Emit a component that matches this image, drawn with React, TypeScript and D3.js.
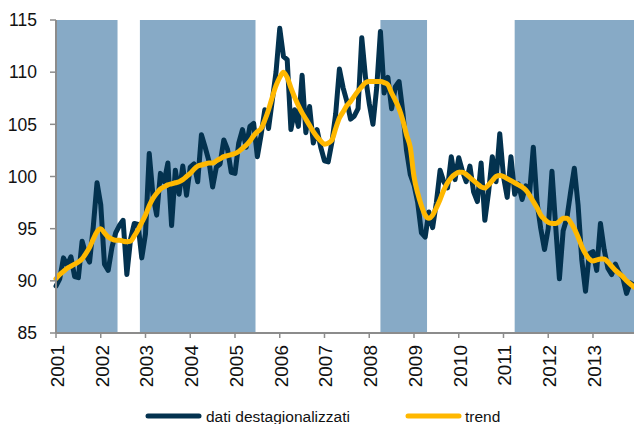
import React from 'react';
import * as d3 from 'd3';

// anni sull'asse x (un tick a gennaio di ogni anno)
const years = ['2001', '2002', '2003', '2004', '2005', '2006', '2007', '2008', '2009', '2010', '2011', '2012', '2013'];

// dati mensili destagionalizzati, gen 2001 - dic 2013
const seasAdj = [
  89.5, 90.2, 92.2, 91.5, 92.3, 90.4, 90.3, 93.8, 92.5, 91.8, 95.2, 99.4,
  97.3, 91.6, 91.0, 93.2, 94.6, 95.3, 95.8, 90.6, 94.0, 95.5, 95.4, 92.2,
  94.5, 102.2, 98.2, 96.3, 100.3, 99.5, 101.3, 95.3, 100.6, 98.3, 101.0, 98.2,
  100.9, 101.2, 99.5, 104.0, 102.8, 101.5, 99.0, 100.9, 101.2, 103.5, 102.6, 100.4,
  100.3, 103.2, 104.5, 102.8, 104.8, 105.1, 101.9, 104.0, 106.4, 104.6, 107.3, 110.0,
  114.2, 111.5, 111.2, 104.5, 106.4, 104.8, 109.7, 104.2, 106.7, 103.2, 104.5, 102.8,
  101.5, 101.4, 103.3, 106.0, 110.3, 108.5, 107.2, 105.5, 105.8, 106.5, 113.3, 109.5,
  107.0, 105.0, 108.5, 113.9, 108.0, 109.5, 106.5, 108.6, 109.1, 106.2, 102.5, 100.2,
  99.2, 97.5, 94.6, 94.2, 96.6, 95.1, 97.5, 100.6, 99.5, 98.9, 101.9, 99.7,
  101.8, 100.5, 99.5, 101.0, 98.5, 97.6, 101.3, 95.8, 98.5, 101.9, 99.5, 104.1,
  100.0, 98.0, 101.9, 98.3, 99.3, 97.8, 99.1, 98.4, 102.8, 97.5, 95.0, 93.0,
  95.0, 100.5, 95.2, 90.2, 94.8, 96.0, 98.5, 100.8, 97.3, 92.0, 89.0, 92.6,
  92.8, 91.0, 95.5, 93.0, 91.2, 90.6, 91.6, 90.8, 90.3, 88.8, 89.8, 89.6,
];

// trend mensile
const trend = [
  90.2, 90.6, 90.9, 91.2, 91.4, 91.6, 91.8, 92.1, 92.6, 93.2, 94.0, 94.7,
  95.0, 94.6, 94.2, 94.0, 93.9, 93.9, 93.8, 93.75, 93.8, 94.3, 94.9, 95.6,
  96.3, 97.2, 97.9, 98.4, 98.8, 99.0, 99.2, 99.3, 99.4, 99.5, 99.7, 100.0,
  100.3, 100.7, 101.0, 101.1, 101.2, 101.3, 101.3, 101.5, 101.7, 101.9, 102.0, 102.1,
  102.2, 102.4, 102.7, 103.0, 103.4, 103.9, 104.3, 104.6, 105.4, 106.4, 107.6, 108.7,
  109.5, 110.0, 109.5, 108.5, 107.6, 106.8, 106.1, 105.5, 104.9, 104.3, 103.8, 103.4,
  103.1, 103.2, 103.5, 104.6, 105.6, 106.2, 106.8, 107.2, 107.7, 108.2, 108.6, 109.0,
  109.1, 109.1, 109.1, 109.1, 109.0, 108.8, 108.0, 107.3, 106.5, 105.4, 104.0, 102.8,
  100.0, 98.4, 97.2, 96.3, 96.0, 96.3, 97.0, 97.8, 98.7, 99.4, 99.9, 100.2,
  100.4, 100.4, 100.2, 99.9, 99.6, 99.3, 99.0, 98.9, 99.2, 99.6, 100.0, 100.1,
  100.0, 99.8, 99.6, 99.4, 99.2, 99.0, 98.7, 98.2, 97.6, 97.0, 96.3, 95.9,
  95.6, 95.5, 95.5, 95.7, 96.0, 96.0, 95.6, 95.0, 94.2, 93.3, 92.6, 92.1,
  91.9, 92.0, 92.1, 92.1, 91.8, 91.4, 91.0, 90.7, 90.4, 90.0, 89.7, 89.4,
];

// periodi ombreggiati (indice mese di inizio e fine)
const bandStart = [0, 22.5, 87, 123];
const bandEnd = [16.5, 53.5, 99.5, 155];

const yTicks = [85, 90, 95, 100, 105, 110, 115];

const legendLabels = ['dati destagionalizzati', 'trend'];

const W = 634;
const H = 424;
const margin = { top: 20, right: 0, bottom: 91, left: 56 };
const navy = '#03324f';
const gold = '#ffb800';
const band = '#87aac6';
const axisGray = '#8c8c8c';
const font = '"Liberation Sans", Arial, Helvetica, sans-serif';

export default function App() {
  const x = d3.scaleLinear()
    .domain([0, seasAdj.length - 1])
    .range([margin.left, W - margin.right]);
  const y = d3.scaleLinear()
    .domain([85, 115])
    .range([H - margin.bottom, margin.top]);

  const line = d3.line<number>()
    .x((d, i) => x(i))
    .y(d => y(d));
  const trendLine = d3.line<number>()
    .x((d, i) => x(i))
    .y(d => y(d))
    .curve(d3.curveMonotoneX);

  const y0 = y(85);

  return (
    <svg width={W} height={H} style={{ position: 'absolute', left: 0, top: 0, fontFamily: font }}>
      <rect width={W} height={H} fill="#fff" />

      {/* bande */}
      {bandStart.map((s, i) => (
        <rect key={i} x={x(s)} y={y(115)} width={x(bandEnd[i]) - x(s)} height={y0 - y(115)} fill={band} />
      ))}

      {/* serie */}
      <path d={line(seasAdj) ?? ''} fill="none" stroke={navy} strokeWidth={5} strokeLinejoin="round" strokeLinecap="round" />
      <path d={trendLine(trend) ?? ''} fill="none" stroke={gold} strokeWidth={5} strokeLinejoin="round" strokeLinecap="round" />

      {/* asse y */}
      <line x1={margin.left} x2={margin.left} y1={y(115)} y2={y0} stroke={axisGray} strokeWidth={2} />
      {yTicks.map(t => (
        <g key={t} transform={`translate(0,${y(t)})`}>
          <line x1={margin.left - 6} x2={margin.left} stroke={axisGray} strokeWidth={1.5} />
          <text x={37} dy="0.36em" textAnchor="end" fontSize={17.5} fill="#111">{t}</text>
        </g>
      ))}

      {/* asse x */}
      <line x1={margin.left} x2={W} y1={y0} y2={y0} stroke={axisGray} strokeWidth={2} />
      {years.map((yr, i) => (
        <g key={yr} transform={`translate(${x(i * 12)},${y0})`}>
          <line y1={0} y2={5} stroke={axisGray} strokeWidth={1.5} />
          <text transform="translate(1,12) rotate(-90)" dy="0.36em" textAnchor="end" fontSize={19} fill="#111">{yr}</text>
        </g>
      ))}

      {/* legenda */}
      <g transform="translate(0,416)">
        <line x1={148} x2={199} stroke={navy} strokeWidth={5} strokeLinecap="round" />
        <text x={206} dy="0.36em" fontSize={15.5} fill="#111">{legendLabels[0]}</text>
        <line x1={408} x2={459} stroke={gold} strokeWidth={5} strokeLinecap="round" />
        <text x={465} dy="0.36em" fontSize={15.5} fill="#111">{legendLabels[1]}</text>
      </g>
    </svg>
  );
}
